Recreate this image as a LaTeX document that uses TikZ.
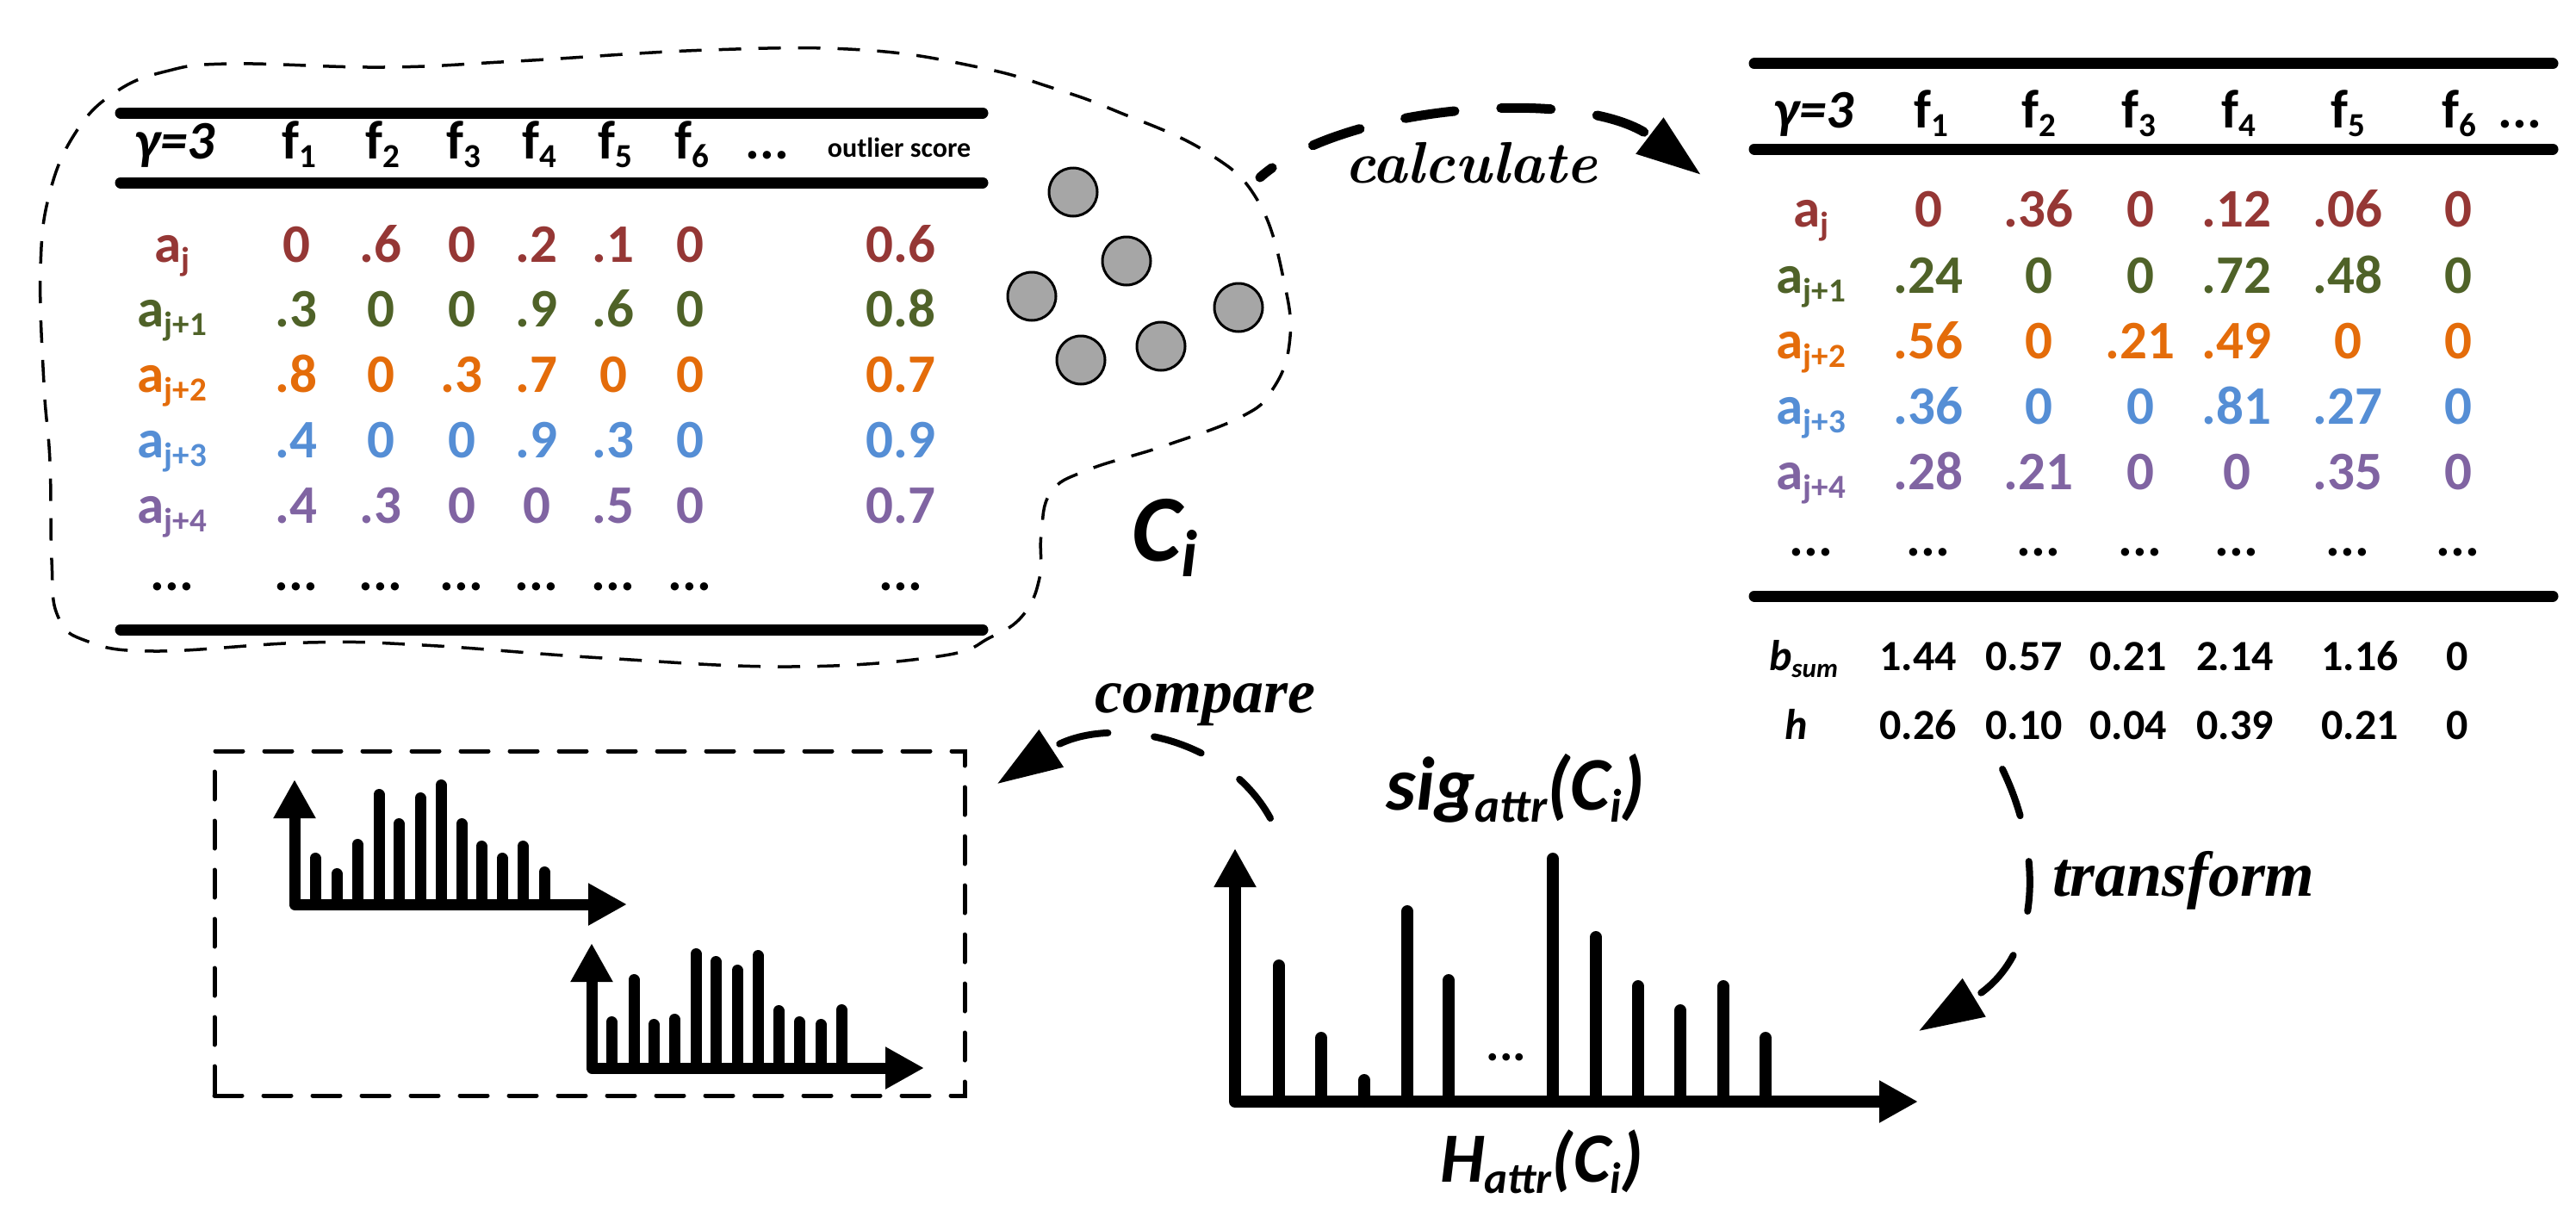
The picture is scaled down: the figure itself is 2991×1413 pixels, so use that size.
\documentclass[tikz,border=0pt]{standalone}
\usepackage{fontspec}
\newfontfamily\calib{Carlito}
\newfontfamily\tser{Liberation Serif}
\newfontfamily\lmit{Latin Modern Roman}
\usetikzlibrary{arrows.meta}
\definecolor{cred}{HTML}{953735}
\definecolor{cgreen}{HTML}{4F6228}
\definecolor{corange}{HTML}{E46C0A}
\definecolor{cblue}{HTML}{558ED5}
\definecolor{cpurple}{HTML}{8064A2}
\definecolor{cgray}{HTML}{A6A6A6}
\makeatletter
\newcommand\mysub[2][0.62]{\raisebox{-0.17em}{\fontsize{\strip@pt\dimexpr#1\dimexpr\f@size pt\relax\relax}{1}\selectfont #2}}
\makeatother
\tikzset{
  tb/.style={inner sep=0pt, anchor=base, font=\calib\bfseries\fontsize{63}{70}\selectfont},
  sm/.style={inner sep=0pt, anchor=base, font=\calib\bfseries\fontsize{50}{60}\selectfont},
  rulebar/.style={line width=13pt, line cap=round},
  blob/.style={line width=3.5pt, dash pattern=on 26pt off 20pt},
  cbox/.style={draw, line width=5pt, dash pattern=on 32pt off 25pt, line cap=round, minimum width=871pt, minimum height=400pt, inner sep=0pt},
  flow/.style={line cap=round, dash pattern=on 58pt off 54pt, -{Triangle[length=75pt,width=50pt]}},
  axisline/.style={line width=13pt, line join=round, {Triangle[length=45pt,width=46pt]}-{Triangle[length=45pt,width=46pt]}},
  histbar/.style={line width=13pt, line cap=round},
  dotnode/.style={circle, draw, fill=cgray, line width=3pt, minimum size=56pt, inner sep=0pt},
  lbl/.style={inner sep=0pt, anchor=base},
}
\begin{document}
\begin{tikzpicture}[x=1pt,y=-1pt]
\useasboundingbox (0,0) rectangle (2991,1413);
\fill[white] (0,0) rectangle (2991,1413);

% ---------- cluster blob ----------
\draw[blob] plot[smooth cycle, tension=0.7] coordinates {
 (134,107) (192,83) (268,74) (446,78) (600,71) (823,58) (1002,58) (1136,78)
 (1225,103) (1296,129) (1400,176) (1461,234) (1492,332) (1497,400) (1477,453)
 (1441,484) (1354,517) (1262,546) (1220,572) (1209,620) (1207,671) (1188,714)
 (1150,740) (1090,762) (918,774) (700,764) (491,749) (357,746) (179,756)
 (100,744) (67,715) (60,650) (58,536) (51,446) (47,312) (58,223) (89,152)};

% ---------- left table ----------
\draw[rulebar] (140,131) -- (1141,131);
\draw[rulebar] (140,212) -- (1141,212);
\draw[rulebar] (140,731) -- (1141,731);
\node[tb] (Lg) at (203,184) {\itshape γ=3};
\foreach \x [count=\c] in {347,444,538,626,714,803}
  \node[tb] (Lf\c) at (\x,184) {f\mysub{\c}};
\node[tb] (Lhd) at (891,184) {...};
\node[lbl, font=\calib\bfseries\fontsize{32}{36}\selectfont] (Los) at (1044,182) {outlier score};
\def\LX{{344,442,536,623,712,801}}
\foreach \col/\y/\lab/\vals/\sc [count=\r] in {
 cred/304/j/{0,.6,0,.2,.1,0}/0.6,
 cgreen/379/j+1/{.3,0,0,.9,.6,0}/0.8,
 corange/455/j+2/{.8,0,.3,.7,0,0}/0.7,
 cblue/531/j+3/{.4,0,0,.9,.3,0}/0.9,
 cpurple/607/j+4/{.4,.3,0,0,.5,0}/0.7}{
  \node[tb,text=\col] (La\r) at (200,\y) {a\mysub{\lab}};
  \foreach \v [count=\c] in \vals {
    \pgfmathsetmacro\xx{\LX[\c-1]}
    \node[tb,text=\col] (L\r-\c) at (\xx,\y) {\v};
  }
  \node[tb,text=\col] (Ls\r) at (1046,\y) {\sc};
}
\foreach \x [count=\c] in {200,344,442,536,623,712,801,1046}
  \node[tb] (Ld\c) at (\x,685) {...};

% ---------- points of the cluster ----------
\foreach \x/\y [count=\i] in {1246/223,1308/303,1198/344,1438/357,1255/418,1348/402}
  \node[dotnode] (c\i) at (\x,\y) {};
\node[lbl, font=\calib\bfseries\itshape\fontsize{110}{120}\selectfont] (Ci) at (1352,651) {C\mysub[0.7]{i}};

% ---------- right table ----------
\draw[rulebar] (2037,74) -- (2964,74);
\draw[rulebar] (2037,173) -- (2964,173);
\draw[rulebar] (2037,692) -- (2964,692);
\node[tb] (Rg) at (2106,148) {\itshape γ=3};
\foreach \x [count=\c] in {2242,2367,2483,2599,2726,2855}
  \node[tb] (Rf\c) at (\x,148) {f\mysub{\c}};
\node[tb] (Rhd) at (2926,148) {...};
\def\RX{{2239,2367,2485,2597,2726,2854}}
\foreach \col/\y/\lab/\vals [count=\r] in {
 cred/263/j/{0,.36,0,.12,.06,0},
 cgreen/340/j+1/{.24,0,0,.72,.48,0},
 corange/416/j+2/{.56,0,.21,.49,0,0},
 cblue/492/j+3/{.36,0,0,.81,.27,0},
 cpurple/568/j+4/{.28,.21,0,0,.35,0}}{
  \node[tb,text=\col] (Ra\r) at (2103,\y) {a\mysub{\lab}};
  \foreach \v [count=\c] in \vals {
    \pgfmathsetmacro\xx{\RX[\c-1]}
    \node[tb,text=\col] (R\r-\c) at (\xx,\y) {\v};
  }
}
\foreach \x [count=\c] in {2103,2239,2367,2485,2597,2726,2854}
  \node[tb] (Rd\c) at (\x,645) {...};
\node[sm] (bsum) at (2094,778) {\itshape b\mysub{sum}};
\foreach \x/\v [count=\c] in {2227/1.44,2350/0.57,2471/0.21,2595/2.14,2740/1.16,2853/0}
  \node[sm] (B\c) at (\x,778) {\v};
\node[sm] (hlab) at (2086,858) {\itshape h};
\foreach \x/\v [count=\c] in {2227/0.26,2350/0.10,2471/0.04,2595/0.39,2740/0.21,2853/0}
  \node[sm] (Hh\c) at (\x,858) {\v};

% ---------- main histogram ----------
\foreach \x/\t in {1485/1114,1534/1198,1584/1247,1634/1051,1682/1131,1803/990,1853/1081,1902/1138,1951/1166,2001/1138,2050/1198}
  \draw[histbar, line width=14pt] (\x,1279) -- (\x,\t+7);
\draw[axisline, line width=14pt] (1434,985) -- (1434,1279) -- (2227,1279);
\node[lbl, font=\calib\bfseries\fontsize{58}{60}\selectfont] (hdots) at (1749,1231) {...};
\node[lbl, font=\calib\bfseries\itshape\fontsize{88}{96}\selectfont] (sig) at (1760,940) {sig\mysub{attr}(C\mysub{i})};
\node[lbl, font=\calib\bfseries\itshape\fontsize{82}{90}\selectfont] (Hattr) at (1790,1372) {H\mysub{attr}(C\mysub{i})};

% ---------- compared histograms ----------
\node[cbox] (cmpbox) at (684.5,1072) {};
\foreach \x/\t in {366/990,391/1008,415/974,440/916,463/950,488/920,512/905,536/950,559/976,583/990,607/976,632/1006}
  \draw[histbar] (\x,1050) -- (\x,\t+6.5);
\draw[axisline] (342,905) -- (342,1050) -- (728,1050);
\foreach \x/\t in {710/1180,736/1131,759/1183,783/1177,808/1101,831/1110,856/1120,880/1103,904/1167,928/1180,953/1183,977/1166}
  \draw[histbar] (\x,1240) -- (\x,\t+6.5);
\draw[axisline] (687,1095) -- (687,1240) -- (1073,1240);

% ---------- flow arrows ----------
\coordinate (calcS) at (1463,206);
\coordinate (calcE) at (1975,203);
\draw[flow, line width=11pt, dash phase=40pt] (calcS) .. controls (1560,120) and (1840,100) .. (calcE);
\node[lbl, font=\lmit\bfseries\itshape\fontsize{68}{80}\selectfont] (calc) at (1708,212) {calculate};

\coordinate (trS) at (2325,893);
\coordinate (trE) at (2228,1197);
\draw[flow, line width=8pt] (trS) .. controls (2372,990) and (2372,1110) .. (trE);
\node[lbl, anchor=base west, font=\tser\bfseries\itshape\fontsize{74}{80}\selectfont] (trf) at (2383,1040) {transform};

\coordinate (cmpS) at (1475,950);
\coordinate (cmpE) at (1158,910);
\draw[flow, line width=8pt] (cmpS) .. controls (1420,850) and (1280,830) .. (cmpE);
\node[lbl, font=\tser\bfseries\itshape\fontsize{72}{80}\selectfont] (cmp) at (1399,827) {compare};
\end{tikzpicture}
\end{document}
